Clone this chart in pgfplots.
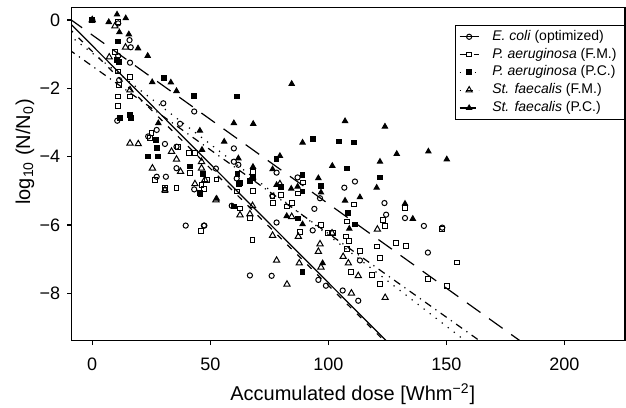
\documentclass[border=0pt]{standalone}
\usepackage{fontspec}
\setmainfont{Liberation Sans}
\usepackage{pgfplots}
\pgfplotsset{compat=1.18}
\begin{document}
\begin{tikzpicture}
\useasboundingbox (0,0) rectangle (313pt,203.5pt);
\begin{axis}[
  scale only axis, width=276.65pt, height=166.7pt,
  at={(35.85pt,33.15pt)}, anchor=south west,
  xmin=-8.7, xmax=225.7, ymin=-9.39, ymax=0.37,
  axis line style={line width=0.75pt},
  tick pos=left, tick align=outside, major tick length=2.2pt,
  every tick/.style={black, line width=0.6pt},
  xtick={0,50,100,150,200}, xticklabels={0,50,100,150,200},
  ytick={-8,-6,-4,-2,0}, yticklabels={−8,−6,−4,−2,0},
  tick label style={font=\fontsize{9}{10}\selectfont},
  xticklabel style={yshift=-3pt},
  xlabel={Accumulated dose [Whm\textsuperscript{−2}]},
  xlabel style={font=\fontsize{10}{12}\selectfont, at={(axis description cs:0.508,-0.18)}, anchor=base},
  ylabel={log\textsubscript{10} (N/N\textsubscript{0})},
  ylabel style={font=\fontsize{10}{12}\selectfont, at={(axis description cs:-0.0846,0.566)}, anchor=center},
  legend style={at={(rel axis cs:1,0.947)}, anchor=north east, draw=black, line width=0.5pt,
    inner sep=2pt, font=\fontsize{7}{8}\selectfont, row sep=1.6pt, cells={anchor=west},
    nodes={inner ysep=0.3pt, text height=5.1pt, text depth=1.6pt}},
  legend image code/.code={\draw[mark repeat=2,mark phase=2,#1] plot coordinates {(0pt,0pt) (4.75pt,0pt) (9.5pt,0pt)}; \path (14pt,0pt);},
]
% regression lines
\addplot[forget plot, black, line width=0.6pt, solid] coordinates {(-10,-0.056) (140,-10.466)};
\addplot[forget plot, black, line width=0.6pt, dash pattern=on 3pt off 4pt] coordinates {(-10,-0.235) (140,-10.51)};
\addplot[forget plot, black, line width=0.6pt, dash pattern=on 0.6pt off 3.2pt] coordinates {(-10,-0.437) (180,-10.564)};
\addplot[forget plot, black, line width=0.6pt, dash pattern=on 3.7pt off 2.6pt on 0.6pt off 2.6pt] coordinates {(-10,-0.86) (180,-10.17)};
\addplot[forget plot, black, line width=0.6pt, dash pattern=on 8.3pt off 5.3pt] coordinates {(-10,0.054) (200,-10.32)};

% E. coli (optimized)
\addplot[forget plot, only marks, mark=o, mark size=1.3pt, mark options={black, line width=0.5pt}] coordinates {
(0,0) (11.0,-0.10) (15.8,-0.59) (16.3,-0.80) (11.0,-1.05) (16.0,-1.25) (11.4,-1.76) (10.6,-2.95)
(30.1,-2.44) (43.2,-2.68) (23.7,-3.41) (27.3,-3.22) (30.8,-3.63) (35.7,-3.71) (37.2,-3.04)
(35.7,-4.34) (31.2,-4.59) (27.3,-4.59) (60.0,-4.15) (61.9,-4.24) (43.2,-4.96) (52.4,-4.35)
(60.0,-3.76) (61.2,-4.64) (78.1,-4.47) (87.0,-4.61) (106.8,-4.91) (111.3,-4.73) (76.3,-5.15)
(94.1,-5.53) (123.8,-5.36) (124.5,-5.70) (78.1,-5.93) (93.4,-6.16) (59.1,-5.44) (47.5,-6.02)
(96.5,-5.22) (39.6,-6.02) (47.3,-6.02) (66.8,-7.48) (76.0,-7.49) (132.5,-5.80) (140.5,-6.03)
(148.3,-6.08) (142.2,-6.81) (113.4,-7.04) (95.8,-7.61) (99.0,-7.78) (106.1,-7.92) (112.7,-8.22)
};
% P. aeruginosa (F.M.)
\addplot[forget plot, only marks, mark=square, mark size=1.2pt, mark options={black, line width=0.5pt}] coordinates {
(0,0) (11.0,-0.07) (9.6,-0.93) (11.0,-1.51) (16.0,-1.66) (16.0,-2.24) (11.0,-2.24) (11.0,-2.52)
(11.4,-1.90) (25.1,-3.32) (24.4,-3.46) (35.7,-4.93) (30.8,-4.93) (41.1,-3.90) (43.5,-3.90)
(52.6,-4.67) (61.2,-5.02) (68.0,-4.45) (36.4,-3.71) (41.4,-4.49) (48.5,-4.68) (47.5,-4.96)
(68.2,-5.00) (76.4,-5.17) (79.9,-5.12) (82.4,-5.46) (84.5,-5.37) (87.3,-5.08) (89.4,-4.76)
(76.7,-5.37) (62.6,-5.52) (66.8,-5.79) (67.9,-6.44) (88.0,-6.20) (96.9,-6.00) (99.7,-6.24)
(102.0,-6.24) (107.8,-5.90) (107.4,-6.34) (108.8,-6.47) (107.8,-6.70) (113.4,-6.76) (120.5,-6.63)
(124.0,-6.03) (128.7,-6.52) (111.0,-5.40) (121.9,-6.96) (121.9,-7.74) (118.4,-7.46) (109.6,-7.37)
(142.2,-7.59) (150.2,-7.78) (132.5,-5.51) (123.3,-5.85) (148.1,-6.12) (132.9,-6.61) (154.4,-7.10)
(26.6,-4.68) (46.3,-4.83) (46.1,-6.17) (30.8,-4.97)
};
% P. aeruginosa (P.C.)
\addplot[forget plot, only marks, mark=square*, mark size=1.2pt, mark options={black, line width=0.5pt}] coordinates {
(0,0) (11.0,-0.63) (30.5,-1.69) (43.1,-2.22) (61.2,-2.24) (11.7,-2.88) (16.0,-2.78) (16.3,-2.86)
(27.0,-3.51) (27.3,-3.76) (23.7,-4.00) (28.0,-4.00) (41.4,-4.29) (45.6,-5.07) (47.0,-4.51)
(68.2,-4.63) (62.6,-4.78) (11.4,-1.24) (10.6,-1.17) (93.4,-3.48) (104.5,-3.56) (110.8,-3.59)
(78.1,-4.08) (107.8,-4.35) (121.9,-4.61) (89.1,-4.54) (96.8,-4.86) (89.1,-5.02) (87.0,-5.81)
(111.3,-5.99) (61.5,-4.50) (60.2,-5.46) (62.3,-4.80) (66.8,-4.71) (79.8,-4.88) (108.5,-5.66)
(89.1,-7.37) (45.9,-5.09)
};
% St. faecalis (F.M.)
\addplot[forget plot, only marks, mark=triangle, mark size=1.8pt, mark options={black, line width=0.5pt}] coordinates {
(0,0) (9.6,-0.18) (14.1,-0.80) (7.2,-1.09) (16.0,-2.05) (16.0,-3.61) (19.5,-3.63) (33.6,-3.85)
(25.5,-4.34) (35.7,-4.08) (37.4,-4.44) (46.3,-4.34) (46.3,-4.15) (47.7,-4.68) (43.5,-4.80)
(30.8,-4.98) (52.4,-5.27) (62.6,-5.71) (66.8,-5.68) (67.9,-5.44) (79.5,-4.80) (84.5,-5.76)
(76.4,-6.31) (87.3,-6.34) (96.5,-6.56) (95.8,-6.78) (101.6,-6.24) (106.3,-6.93) (78.1,-7.04)
(87.7,-7.12) (96.9,-7.24) (108.5,-7.12) (112.7,-7.49) (109.8,-8.00) (82.5,-7.74) (120.8,-6.13)
(124.1,-8.13)
};
% St. faecalis (P.C.)
\addplot[forget plot, only marks, mark=triangle*, mark size=1.5pt, mark options={black, line width=0.5pt}] coordinates {
(0,0) (7.0,-0.06) (10.5,0.16) (14.2,0.05) (11.5,-0.36) (15.5,-0.42) (19.4,-0.83) (23.5,-1.05)
(25.4,-1.82) (33.3,-1.83) (35.7,-2.08) (45.6,-3.24) (55.9,-3.56) (60.0,-3.02) (68.2,-3.04)
(68.1,-4.30) (61.9,-4.05) (52.7,-5.23) (28.0,-3.02) (84.5,-1.87) (107.1,-2.96) (124.0,-3.12)
(129.0,-3.92) (89.1,-3.59) (121.9,-4.15) (79.5,-3.98) (101.7,-4.27) (95.8,-4.63) (120.5,-4.91)
(113.4,-5.19) (107.1,-5.29) (84.3,-4.94) (87.0,-4.88) (78.1,-4.83) (76.4,-4.37) (108.9,-6.11)
(132.5,-5.38) (135.8,-5.82) (82.4,-5.74) (96.9,-5.05) (97.6,-7.12) (142.4,-3.85) (150.2,-4.08)
(46.5,-3.80) (89.1,-5.98)
};

\addlegendimage{black, line width=0.6pt, solid, mark=o, mark size=1.3pt, mark options={solid, line width=0.5pt}}
\addlegendentry{\textit{E. coli} (optimized)}
\addlegendimage{black, line width=0.6pt, dash pattern=on 3pt off 4pt, mark=square, mark size=1.2pt, mark options={solid, line width=0.5pt}}
\addlegendentry{\textit{P. aeruginosa} (F.M.)}
\addlegendimage{black, line width=0.6pt, dash pattern=on 0.6pt off 3.2pt, mark=square*, mark size=1.2pt, mark options={solid, line width=0.5pt}}
\addlegendentry{\textit{P. aeruginosa} (P.C.)}
\addlegendimage{black, line width=0.6pt, dash pattern=on 0.6pt off 2.6pt on 3.7pt off 2.6pt, mark=triangle, mark size=1.8pt, mark options={solid, line width=0.5pt}}
\addlegendentry{\textit{St. faecalis} (F.M.)}
\addlegendimage{black, line width=0.6pt, dash pattern=on 8.3pt off 5.3pt, mark=triangle*, mark size=1.5pt, mark options={solid, line width=0.5pt}}
\addlegendentry{\textit{St. faecalis} (P.C.)}
\end{axis}
\end{tikzpicture}
\end{document}
